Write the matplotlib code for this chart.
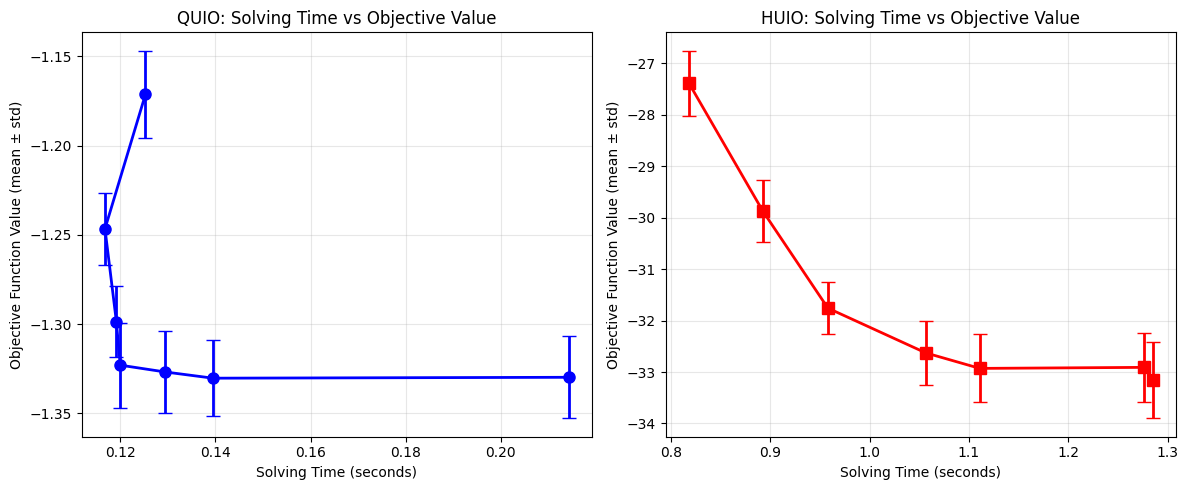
import numpy as np
import matplotlib
matplotlib.use("Agg")
import matplotlib.pyplot as plt

# QUIO results
quio_time = [0.1253, 0.1168, 0.1192, 0.1200, 0.1294, 0.1395, 0.2143]
quio_obj = [-1.1713, -1.2466, -1.2987, -1.3230, -1.3268, -1.3303, -1.3298]
quio_std = [0.0245, 0.0200, 0.0200, 0.0238, 0.0230, 0.0212, 0.0230]

# HUIO results
huio_time = [0.818, 0.8926, 0.958, 1.0567, 1.111, 1.2763, 1.2853]
huio_obj = [-27.39, -29.88, -31.76, -32.63, -32.93, -32.91, -33.16]
huio_std = [0.63, 0.60, 0.50, 0.62, 0.66, 0.67, 0.74]

fig, (ax1, ax2) = plt.subplots(1, 2, figsize=(12, 5), dpi=100)

ax1.errorbar(quio_time, quio_obj, yerr=quio_std, fmt='bo-', linewidth=2,
             markersize=8, capsize=5)
ax1.set_title('QUIO: Solving Time vs Objective Value')
ax1.set_xlabel('Solving Time (seconds)')
ax1.set_ylabel('Objective Function Value (mean ± std)')
ax1.grid(True, alpha=0.3)

ax2.errorbar(huio_time, huio_obj, yerr=huio_std, fmt='rs-', linewidth=2,
             markersize=8, capsize=5)
ax2.set_title('HUIO: Solving Time vs Objective Value')
ax2.set_xlabel('Solving Time (seconds)')
ax2.set_ylabel('Objective Function Value (mean ± std)')
ax2.grid(True, alpha=0.3)

plt.tight_layout()
plt.savefig('out.png', bbox_inches='tight')
